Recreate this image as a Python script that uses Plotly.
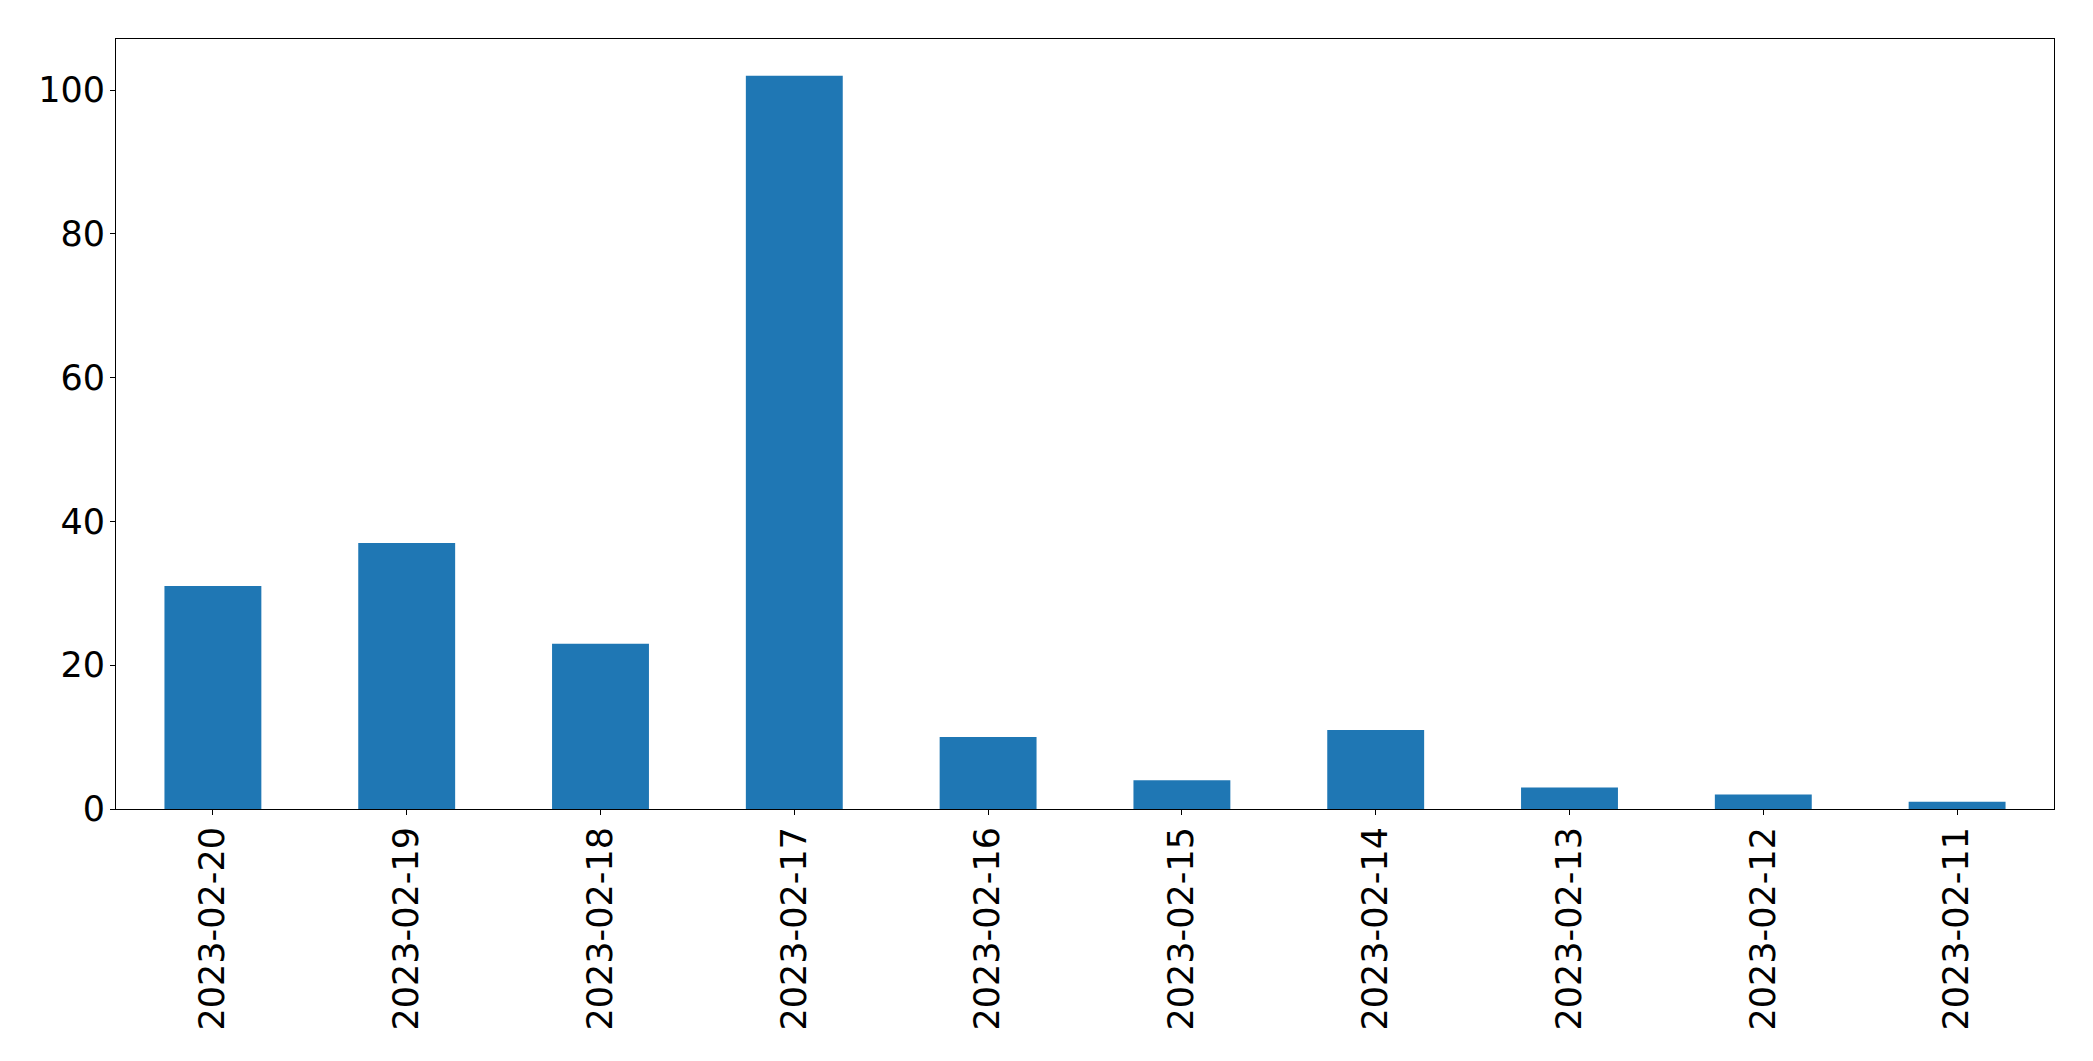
import plotly.graph_objects as go

dates = ["2023-02-20", "2023-02-19", "2023-02-18", "2023-02-17", "2023-02-16",
         "2023-02-15", "2023-02-14", "2023-02-13", "2023-02-12", "2023-02-11"]
counts = [31, 37, 23, 102, 10, 4, 11, 3, 2, 1]
y_ticks = [0, 20, 40, 60, 80, 100]

fig = go.Figure(go.Bar(x=list(range(len(dates))), y=counts, width=0.5,
                       marker=dict(color="#1f77b4", line=dict(width=0))))

font = dict(family="DejaVu Sans", size=35, color="black")
fig.update_layout(
    width=2077, height=1045,
    margin=dict(l=108, r=31, t=31, b=244),
    paper_bgcolor="white", plot_bgcolor="white",
    showlegend=False,
    font=font,
)
fig.update_xaxes(
    range=[-0.5, len(dates) - 0.5],
    tickmode="array", tickvals=list(range(len(dates))), ticktext=dates,
    tickangle=-90, ticks="outside", ticklen=5, tickwidth=1.1, tickcolor="black",
    showline=True, linecolor="black", linewidth=1.1, mirror=True,
    showgrid=False, zeroline=False, tickfont=font, ticklabelstandoff=-2,
)
fig.update_yaxes(
    range=[0, 107.1],
    tickmode="array", tickvals=y_ticks,
    ticks="outside", ticklen=5, tickwidth=1.1, tickcolor="black",
    showline=True, linecolor="black", linewidth=1.1, mirror=True,
    showgrid=False, zeroline=False, tickfont=font, ticklabelstandoff=-2,
)
fig.write_html("out.html")
